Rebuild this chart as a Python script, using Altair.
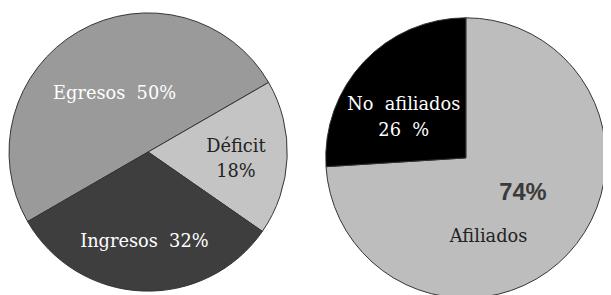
import math
import altair as alt
import pandas as pd

# Left pie
left_cats = ["Egresos", "Déficit", "Ingresos"]
left_vals = [50, 18, 32]
left_labels = ["Egresos\u00a0 50%", "Déficit\n18%", "Ingresos\u00a0 32%"]
left_colors = ["#9a9a9a", "#c4c4c4", "#3e3e3e"]

# Right pie
right_cats = ["Afiliados", "No afiliados"]
right_vals = [74, 26]
right_colors = ["#bdbdbd", "#000000"]

left = pd.DataFrame({"cat": left_cats, "val": left_vals, "label": left_labels,
                     "ord": list(range(len(left_cats)))})
right = pd.DataFrame({"cat": right_cats, "val": right_vals,
                      "ord": list(range(len(right_cats)))})
right["pct"] = [f"{v}%" for v in right_vals]
right["label"] = ["Afiliados", f"No\u00a0 afiliados\n{right_vals[1]}\u00a0 %"]

TWO_PI = 2 * math.pi
l_start = math.radians(240)
r_start = 0.0

LX, LY, LR = 142, 144, 141
RX, RY, RR = 464, 150, 142

FONT = "DejaVu Serif"
FS = 18


def theta(start):
    return alt.Theta("val:Q", stack=True,
                     scale=alt.Scale(domain=[0, 100], range=[start, start + TWO_PI]))


left_arc = alt.Chart(left).mark_arc(radius=LR, stroke="#333333", strokeWidth=1).encode(
    theta=theta(l_start),
    order=alt.Order("ord:Q"),
    color=alt.Color("cat:N", scale=alt.Scale(domain=left_cats, range=left_colors), legend=None),
    x=alt.value(LX), y=alt.value(LY),
)

right_arc = alt.Chart(right).mark_arc(radius=RR, stroke="#333333", strokeWidth=1).encode(
    theta=theta(r_start),
    order=alt.Order("ord:Q"),
    color=alt.Color("cat:N", scale=alt.Scale(domain=right_cats, range=right_colors), legend=None),
    x=alt.value(RX), y=alt.value(RY),
)


def ltext(cat, radius, color, dx=0, dy=0):
    return alt.Chart(left).mark_text(
        radius=radius, font=FONT, fontSize=FS, color=color, lineBreak="\n",
        dx=dx, dy=dy, lineHeight=26,
    ).encode(
        theta=theta(l_start), order=alt.Order("ord:Q"),
        text="label:N", x=alt.value(LX), y=alt.value(LY),
        opacity=alt.condition(alt.datum.cat == cat, alt.value(1), alt.value(0)),
    )


def rtext(cat, field, radius, color, dx=0, dy=0, font=FONT, weight="normal", size=FS):
    return alt.Chart(right).mark_text(
        radius=radius, font=font, fontSize=size, fontWeight=weight, color=color,
        lineBreak="\n", dx=dx, dy=dy, lineHeight=26,
    ).encode(
        theta=theta(r_start), order=alt.Order("ord:Q"),
        text=f"{field}:N", x=alt.value(RX), y=alt.value(RY),
        opacity=alt.condition(alt.datum.cat == cat, alt.value(1), alt.value(0)),
    )


chart = alt.layer(
    left_arc, right_arc,
    ltext("Egresos", 68, "white"),
    ltext("Déficit", 86, "#222222", dx=3, dy=-9),
    ltext("Ingresos", 91, "white"),
    rtext("No afiliados", "label", 74, "white", dx=-9, dy=-3),
    rtext("Afiliados", "pct", 67, "#3a3a3a", dx=9, dy=-10, font="Liberation Sans", weight="bold", size=24),
    rtext("Afiliados", "cat", 81, "#222222", dx=-36, dy=25),
).resolve_scale(
    color="independent", theta="independent"
).properties(
    width=603, height=287, padding=0,
    autosize=alt.AutoSizeParams(type="none"),
).configure_view(stroke=None)

chart.save("out.html", embed_options={"renderer": "svg", "actions": False})
